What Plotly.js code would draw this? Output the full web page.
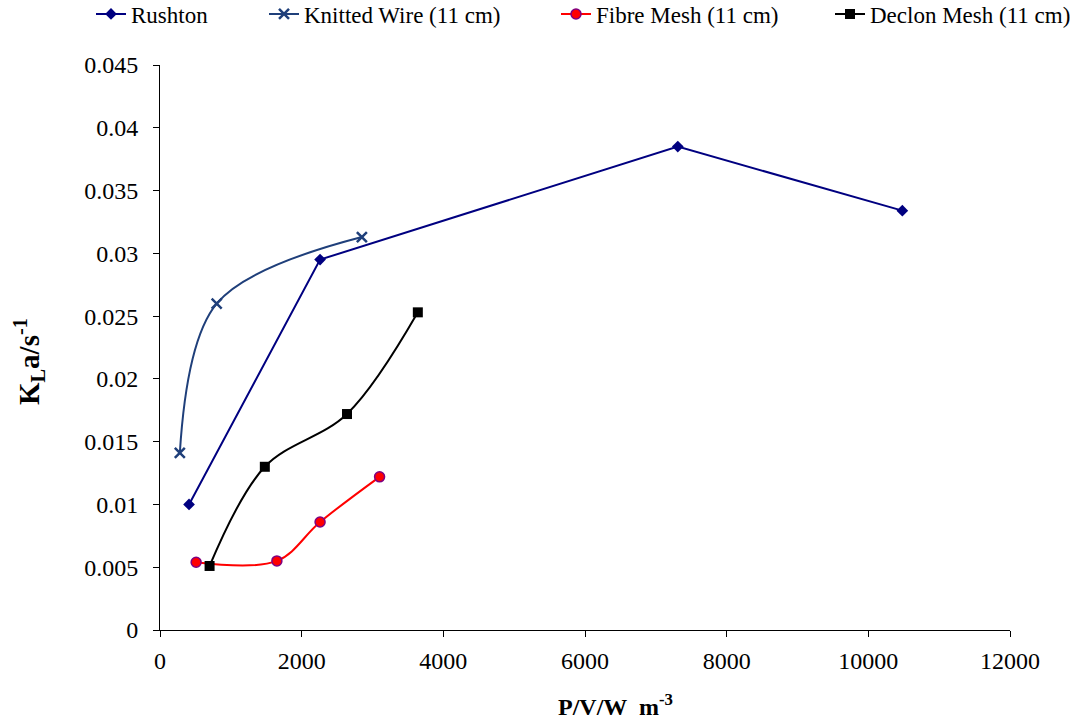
<!DOCTYPE html>
<html>
<head>
<meta charset="utf-8">
<script src="https://cdn.plot.ly/plotly-3.0.1.min.js"></script>
<style>
html,body{margin:0;padding:0;background:#fff;}
#chart{width:1070px;height:719px;}
</style>
</head>
<body>
<div id="chart"></div>
<script>
const seriesNames = ["Rushton", "Knitted Wire (11 cm)", "Fibre Mesh (11 cm)", "Declon Mesh (11 cm)"];
const rushtonX = [410, 2260, 7310, 10480];
const rushtonY = [0.0100, 0.0295, 0.0385, 0.0334];
const knittedX = [280, 800, 2850];
const knittedY = [0.0141, 0.0260, 0.0313];
const fibreX = [510, 1650, 2260, 3100];
const fibreY = [0.0054, 0.0055, 0.0086, 0.0122];
const declonX = [700, 1480, 2640, 3640];
const declonY = [0.0051, 0.0130, 0.0172, 0.0253];
const xTitle = "<b>P/V/W  m<sup>-3</sup></b>";
const yTitle = "<b>K<sub>L</sub>a/s<sup>-1</sup></b>";

const font = "Liberation Serif";

const traces = [
  {x: rushtonX, y: rushtonY, name: seriesNames[0], mode: "lines+markers", legend: "legend",
   line: {color: "#000080", width: 2},
   marker: {symbol: "diamond", size: 9, color: "#000080"}},
  {x: knittedX, y: knittedY, name: seriesNames[1], mode: "lines+markers", legend: "legend2",
   line: {color: "#1F3F7A", width: 2, shape: "spline", smoothing: 1},
   marker: {symbol: "x-thin-open", size: 10, color: "#1F3F7A", line: {width: 2.5, color: "#1F3F7A"}}},
  {x: fibreX, y: fibreY, name: seriesNames[2], mode: "lines+markers", legend: "legend3",
   line: {color: "#FF0000", width: 2, shape: "spline", smoothing: 1},
   marker: {symbol: "circle", size: 10, color: "#FF0000", line: {width: 1.5, color: "#800080"}}},
  {x: declonX, y: declonY, name: seriesNames[3], mode: "lines+markers", legend: "legend4",
   line: {color: "#000000", width: 2, shape: "spline", smoothing: 1},
   marker: {symbol: "square", size: 10, color: "#000000"}}
];

function leg(xpx) {
  return {orientation: "h", xref: "container", yref: "container", x: xpx / 1070, y: 1 - 14 / 719,
          xanchor: "left", yanchor: "middle", font: {family: font, size: 23, color: "#000"},
          itemwidth: 30, bgcolor: "rgba(0,0,0,0)"};
}

const layout = {
  width: 1070, height: 719,
  margin: {l: 160, r: 60, t: 65, b: 89},
  paper_bgcolor: "#fff", plot_bgcolor: "#fff",
  font: {family: font, color: "#000", size: 24},
  showlegend: true,
  legend: leg(91),
  legend2: leg(264),
  legend3: leg(556),
  legend4: leg(830),
  xaxis: {range: [0, 12000], dtick: 2000, tickformat: "d", showgrid: false, zeroline: false,
          showline: true, linecolor: "#000", linewidth: 1, ticks: "outside", ticklen: 6,
          tickcolor: "#000", tickfont: {family: font, size: 24, color: "#000"}, ticklabelstandoff: 3},
  yaxis: {range: [0, 0.045], dtick: 0.005, showgrid: false, zeroline: false,
          showline: true, linecolor: "#000", linewidth: 1, ticks: "outside", ticklen: 6,
          tickcolor: "#000", tickfont: {family: font, size: 24, color: "#000"}, ticklabelstandoff: 10},
  annotations: [
    {text: xTitle, xref: "paper", yref: "paper", x: (615 - 160) / 850, y: -(705 - 630) / 565,
     xanchor: "center", yanchor: "middle", showarrow: false, font: {family: font, size: 24, color: "#000"}},
    {text: yTitle, xref: "paper", yref: "paper", x: -(160 - 29) / 850, y: (630 - 362) / 565,
     xanchor: "center", yanchor: "middle", textangle: -90, showarrow: false, font: {family: font, size: 29, color: "#000"}}
  ]
};

Plotly.newPlot("chart", traces, layout, {displayModeBar: false, staticPlot: true});
</script>
</body>
</html>
